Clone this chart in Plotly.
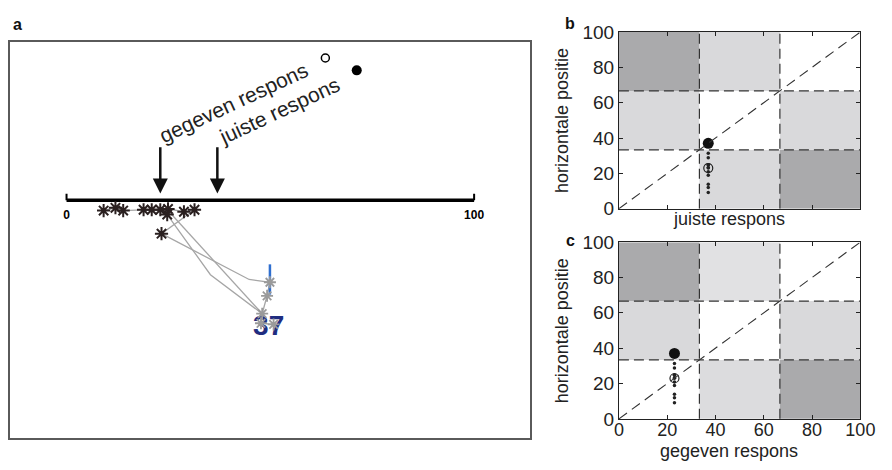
import plotly.graph_objects as go

W, H = 892, 470
FONT = "Liberation Sans, Arial, sans-serif"

# ---------------- data ----------------
# panel a: fixations (number-line units), black asterisks near the line
fix_x = [9.1, 12.0, 13.9, 18.9, 20.9, 23.0, 24.9, 24.7, 28.8, 31.4, 23.3]
fix_y = [-2.6, -1.9, -2.6, -2.4, -2.4, -2.4, -2.2, -3.6, -2.9, -2.4, -8.4]
# fixations on the digits (gray asterisks)
dig_x = [49.9, 49.2, 48.0, 47.7, 50.8]
dig_y = [-20.6, -24.0, -28.5, -30.9, -31.2]
# scan paths
path1_x = [9.1, 12.0, 13.9, 18.9, 20.9, 23.0, 24.9, 28.8, 31.4, 23.3, 44.8, 49.9, 49.2, 48.0]
path1_y = [-2.6, -1.9, -2.6, -2.4, -2.4, -2.4, -2.2, -2.9, -2.4, -8.4, -19.9, -20.6, -24.0, -28.5]
path2_x = [24.7, 35.3, 48.0, 47.7, 50.8]
path2_y = [-3.6, -18.7, -28.5, -30.9, -31.2]
path3_x = [24.9, 48.0]
path3_y = [-2.6, -28.5]

number_shown = "37"
juiste = 37
gegeven = 23
line_ends = [0, 100]
line_labels = ["0", "100"]

# panels b/c grid cell shades (rows bottom->top, cols left->right)
cells_b = [["#ffffff", "#d9d9db", "#aaaaac"],
           ["#d9d9db", "#ffffff", "#d9d9db"],
           ["#aaaaac", "#d9d9db", "#ffffff"]]
cells_c = [["#ffffff", "#dcdcde", "#aaaaac"],
           ["#d9d9db", "#ffffff", "#d9d9db"],
           ["#aaaaac", "#e1e1e3", "#ffffff"]]
bounds = [0, 100 / 3, 200 / 3, 100]
ticks = [0, 20, 40, 60, 80, 100]

fig = go.Figure()

# ---------------- panel a ----------------
for px, py in [(path1_x, path1_y), (path2_x, path2_y), (path3_x, path3_y)]:
    fig.add_trace(go.Scatter(x=px, y=py, mode="lines",
                             line=dict(color="#a6a6a6", width=1.3),
                             xaxis="x", yaxis="y", hoverinfo="skip"))

# number line
fig.add_trace(go.Scatter(x=line_ends, y=[0, 0], mode="lines",
                         line=dict(color="black", width=3.5), xaxis="x", yaxis="y"))
for xe in line_ends:
    fig.add_trace(go.Scatter(x=[xe, xe], y=[0, 1.6], mode="lines",
                             line=dict(color="black", width=2), xaxis="x", yaxis="y"))
fig.add_trace(go.Scatter(x=line_ends, y=[-3.9, -3.9], mode="text", text=line_labels,
                         textfont=dict(family=FONT, size=12, color="black", weight="bold"),
                         xaxis="x", yaxis="y"))

# blue bar & number
fig.add_trace(go.Scatter(x=[49.9, 49.9], y=[-16.1, -23.7], mode="lines",
                         line=dict(color="#2f6fcf", width=2.5), xaxis="x", yaxis="y"))
fig.add_trace(go.Scatter(x=[49.6], y=[-32.0], mode="text", text=[number_shown],
                         textfont=dict(family=FONT, size=28, color="#1f2d80", weight="bold"),
                         xaxis="x", yaxis="y"))

fig.add_trace(go.Scatter(x=fix_x, y=fix_y, mode="markers",
                         marker=dict(symbol="asterisk-open", size=11, color="#2a2020",
                                     line=dict(color="#2a2020", width=2)),
                         xaxis="x", yaxis="y"))
fig.add_trace(go.Scatter(x=dig_x, y=dig_y, mode="markers",
                         marker=dict(symbol="asterisk-open", size=10, color="#9a9a9a",
                                     line=dict(color="#9a9a9a", width=1.8)),
                         xaxis="x", yaxis="y"))

# legend symbols
fig.add_trace(go.Scatter(x=[63.5], y=[35.7], mode="markers",
                         marker=dict(symbol="circle-open", size=8, color="black",
                                     line=dict(color="black", width=1.5)),
                         xaxis="x", yaxis="y"))
fig.add_trace(go.Scatter(x=[71.2], y=[32.6], mode="markers",
                         marker=dict(symbol="circle", size=10, color="black"),
                         xaxis="x", yaxis="y"))

annotations = []
shapes = []
for val in [gegeven, juiste]:
    annotations.append(dict(x=val, y=1.7, ax=val, ay=13.7, xref="x", yref="y",
                            axref="x", ayref="y", text="", showarrow=True,
                            arrowhead=2, arrowsize=1.2, arrowwidth=2.5, arrowcolor="#111"))
annotations.append(dict(x=41.0, y=24.5, xref="x", yref="y", text="gegeven respons",
                        showarrow=False, textangle=-25, xanchor="center", yanchor="middle",
                        font=dict(family=FONT, size=21, color="#222")))
annotations.append(dict(x=52.2, y=22.5, xref="x", yref="y", text="juiste respons",
                        showarrow=False, textangle=-25, xanchor="center", yanchor="middle",
                        font=dict(family=FONT, size=21, color="#222")))

# ---------------- panels b & c ----------------
def grid_panel(xa, ya, cells, dot_x, big_y, open_y):
    for r in range(3):
        for c in range(3):
            shapes.append(dict(type="rect", xref=xa, yref=ya,
                               x0=bounds[c], x1=bounds[c + 1], y0=bounds[r], y1=bounds[r + 1],
                               fillcolor=cells[r][c], line=dict(width=0), layer="below"))
    for b in bounds[1:3]:
        shapes.append(dict(type="line", xref=xa, yref=ya, x0=b, x1=b, y0=0, y1=100,
                           line=dict(color="#333", width=1.2, dash="10px,5px")))
        shapes.append(dict(type="line", xref=xa, yref=ya, x0=0, x1=100, y0=b, y1=b,
                           line=dict(color="#333", width=1.2, dash="10px,5px")))
    shapes.append(dict(type="line", xref=xa, yref=ya, x0=0, x1=100, y0=0, y1=100,
                       line=dict(color="#333", width=1.1, dash="10px,6px")))
    fig.add_trace(go.Scatter(x=[dot_x] * len(fix_x), y=fix_x, mode="markers",
                             marker=dict(size=3.5, color="#222"), xaxis=xa, yaxis=ya))
    fig.add_trace(go.Scatter(x=[dot_x], y=[open_y], mode="markers",
                             marker=dict(symbol="circle-open", size=9, color="#222",
                                         line=dict(color="#222", width=1.2)),
                             xaxis=xa, yaxis=ya))
    fig.add_trace(go.Scatter(x=[dot_x], y=[big_y], mode="markers",
                             marker=dict(symbol="circle", size=11, color="#111"),
                             xaxis=xa, yaxis=ya))

grid_panel("x2", "y2", cells_b, juiste, juiste, gegeven)
grid_panel("x3", "y3", cells_c, gegeven, juiste, gegeven)

# axis titles and panel letters
def paper(xp, yp):
    return xp / W, 1 - yp / H

for txt, (xp, yp), ang in [("horizontale positie", (570, 116), -90),
                           ("horizontale positie", (570, 336), -90)]:
    px_, py_ = paper(xp, yp)
    annotations.append(dict(x=px_, y=py_, xref="paper", yref="paper", text=txt,
                            showarrow=False, textangle=ang, xanchor="center", yanchor="middle",
                            font=dict(family=FONT, size=18, color="#222")))
for txt, (xp, yp) in [("juiste respons", (741, 219)), ("gegeven respons", (741, 461.5))]:
    px_, py_ = paper(xp, yp)
    annotations.append(dict(x=px_, y=py_, xref="paper", yref="paper", text=txt,
                            showarrow=False, xanchor="center", yanchor="middle",
                            font=dict(family=FONT, size=18, color="#222")))
for txt, (xp, yp) in [("a", (13, 15)), ("b", (578, 14)), ("c", (578, 241))]:
    px_, py_ = paper(xp, yp)
    annotations.append(dict(x=px_, y=py_, xref="paper", yref="paper", text=txt,
                            showarrow=False, xanchor="center", yanchor="middle",
                            font=dict(family=FONT, size=16, color="#111", weight="bold")))

ax_common = dict(range=[0, 100], tickvals=ticks, ticks="inside", ticklen=4, tickcolor="#222",
                 showline=True, linecolor="#222", linewidth=1, mirror="ticks",
                 showgrid=False, zeroline=False, fixedrange=True,
                 tickfont=dict(family=FONT, size=19, color="#222"))

bx = [628 / W, 875 / W]
ax3 = dict(ax_common)
ax3["tickfont"] = dict(family=FONT, size=18, color="#222")
fig.update_layout(
    width=W, height=H, margin=dict(l=0, r=0, t=0, b=0),
    paper_bgcolor="white", plot_bgcolor="white", showlegend=False,
    xaxis=dict(domain=[5 / W, 537 / W], range=[-13.9, 113.7], showline=True, mirror=True,
               linecolor="#5a5a5a", linewidth=1.5, showticklabels=False, ticks="",
               showgrid=False, zeroline=False),
    yaxis=dict(domain=[1 - 448 / H, 1 - 34 / H], range=[-59.7, 39.6], showline=True, mirror=True,
               linecolor="#5a5a5a", linewidth=1.5, showticklabels=False, ticks="",
               showgrid=False, zeroline=False),
    xaxis2=dict(domain=bx, anchor="y2", showticklabels=False, **ax_common),
    yaxis2=dict(domain=[1 - 208 / H, 1 - 23 / H], anchor="x2", **ax_common),
    xaxis3=dict(domain=bx, anchor="y3", ticklabelstandoff=-5, **ax3),
    yaxis3=dict(domain=[1 - 428 / H, 1 - 243 / H], anchor="x3", **ax_common),
    annotations=annotations, shapes=shapes,
)

fig.write_html("out.html")
